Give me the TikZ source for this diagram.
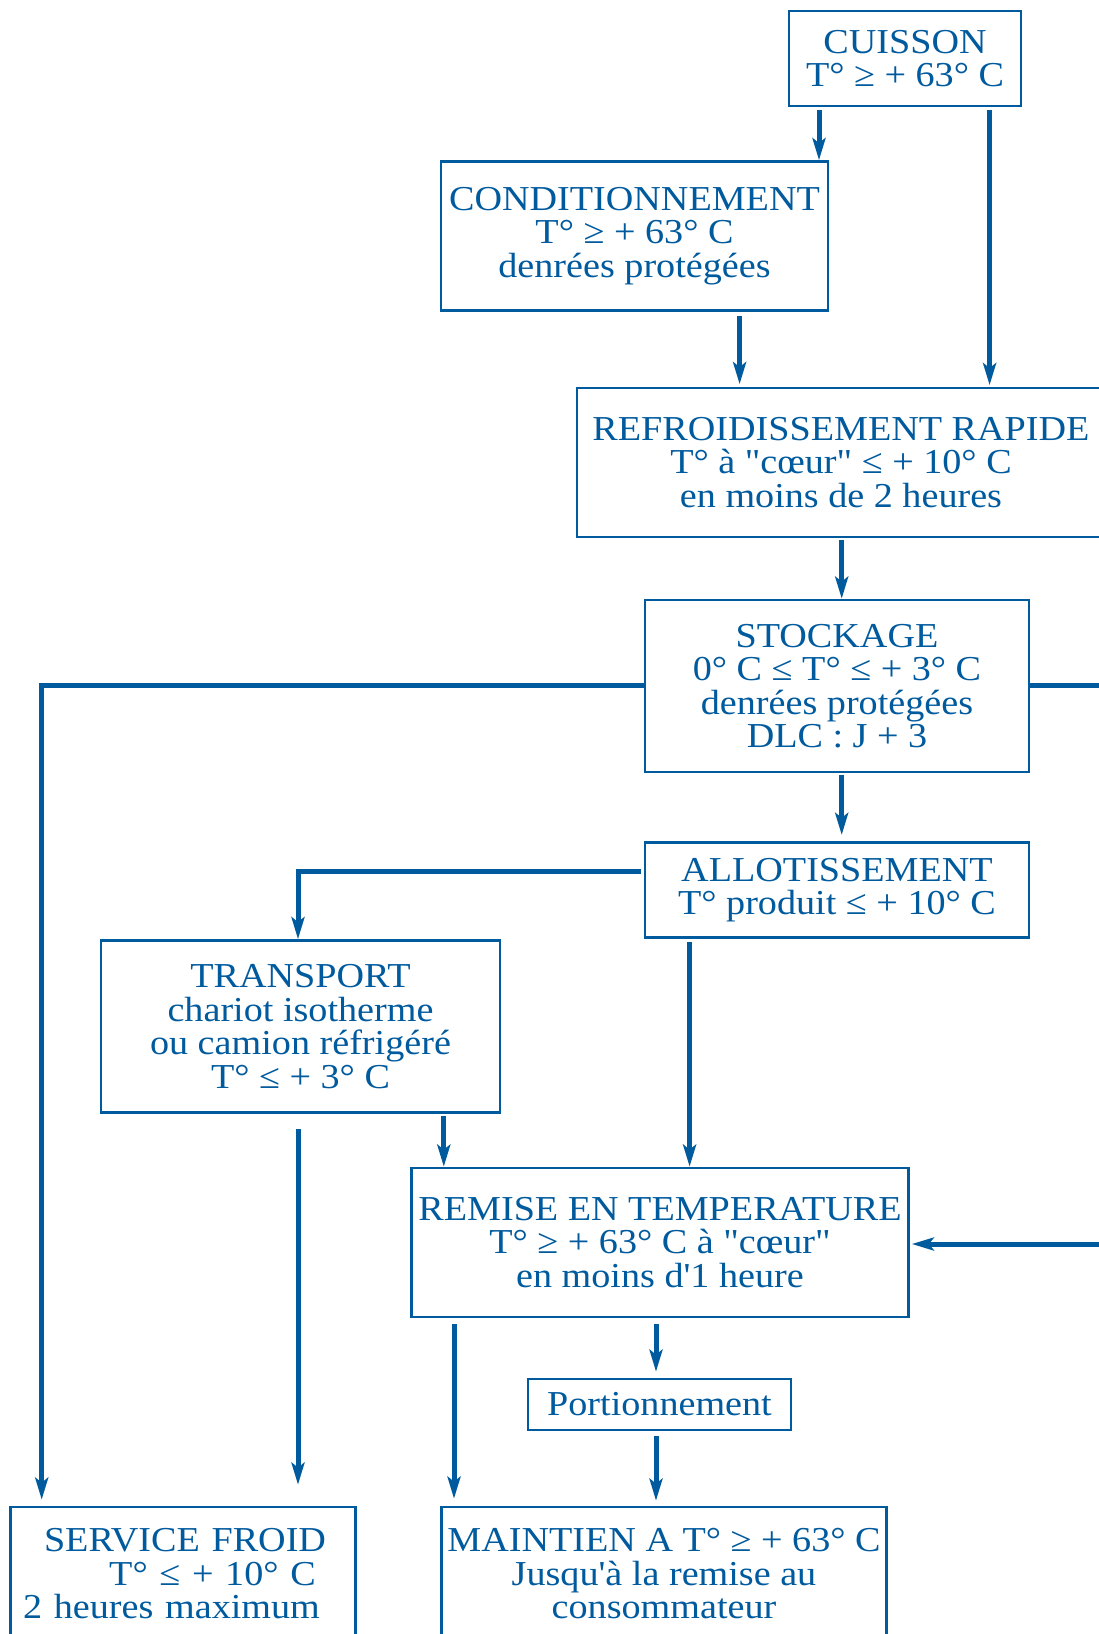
\documentclass[tikz,border=0pt]{standalone}
\usepackage{fontspec}
\setmainfont{Liberation Serif}[FakeStretch=1.09,Ligatures=TeXOff]
\usetikzlibrary{arrows.meta}
\definecolor{hblue}{RGB}{0,90,158}
\begin{document}
\begin{tikzpicture}[x=1pt,y=-1pt,
  box/.style={draw=hblue,line width=2.7pt,text=hblue,align=center,inner sep=0pt,
    font=\fontsize{35}{33.5}\selectfont},
  conn/.style={draw=hblue,line width=5pt},
  arr/.style={conn,-{Stealth[length=22pt,width=13pt,inset=5pt]}}]
\useasboundingbox (0,0) rectangle (1099,1634);
\clip (0,0) rectangle (1099,1634);
\fill[white] (0,0) rectangle (1099,1634);

\node[box,minimum width=232pt,minimum height=95pt] (cuisson) at (905,58.5) {CUISSON\\T° ≥ + 63° C};
\node[box,minimum width=387pt,minimum height=149pt] (cond) at (634.5,236) {CONDITIONNEMENT\\T° ≥ + 63° C\\denrées protégées};
\node[box,minimum width=528pt,minimum height=149pt] (refr) at (841,462.5) {REFROIDISSEMENT RAPIDE\\T° à "cœur" ≤ + 10° C\\en moins de 2 heures};
\node[box,minimum width=384pt,minimum height=172pt] (stock) at (837,686) {STOCKAGE\\0° C ≤ T° ≤ + 3° C\\denrées protégées\\DLC : J + 3};
\node[box,minimum width=384pt,minimum height=95.5pt] (allot) at (837,890) {ALLOTISSEMENT\\T° produit ≤ + 10° C};
\node[box,minimum width=399pt,minimum height=172pt] (transp) at (300.5,1026.5) {TRANSPORT\\chariot isotherme\\ou camion réfrigéré\\T° ≤ + 3° C};
\node[box,minimum width=497pt,minimum height=149pt] (remise) at (660,1242.5) {REMISE EN TEMPERATURE\\T° ≥ + 63° C à "cœur"\\en moins d'1 heure};
\node[box,minimum width=263pt,minimum height=51pt] (portion) at (659.5,1404.5) {Portionnement};
\node[box,minimum width=445pt,minimum height=134pt] (maint) at (664,1574) {MAINTIEN A T° ≥ + 63° C\\Jusqu'à la remise au\\consommateur};
\node[box,align=left,text width=320pt,inner xsep=12.6pt,minimum height=134pt] (serv) at (183.2,1574)
  {\hspace*{20.8pt}SERVICE FROID\\\hspace*{86pt}T° ≤ + 10° C\\2 heures maximum};

\coordinate (xa) at (819,0);
\coordinate (xb) at (989.6,0);
\coordinate (xc) at (739.6,0);
\coordinate (xd) at (841.7,0);
\coordinate (xl) at (41.7,0);
\coordinate (xr) at (1115,0);
\coordinate (ys) at (0,685.5);
\coordinate (ya) at (0,871);
\coordinate (xt) at (298,0);
\coordinate (xe) at (689.6,0);
\coordinate (xf) at (443.8,0);
\coordinate (xg) at (454,0);
\coordinate (xh) at (656,0);
\coordinate (yr) at (0,1244);

\draw[arr,shorten <=3pt] (cuisson.south -| xa) -- (cond.north -| xa);
\draw[arr,shorten <=3pt,shorten >=1.5pt] (cuisson.south -| xb) -- (refr.north -| xb);
\draw[arr,shorten <=4pt,shorten >=2.5pt] (cond.south -| xc) -- (refr.north -| xc);
\draw[arr,shorten <=1.5pt] (refr.south -| xd) -- (stock.north -| xd);
\draw[arr,shorten <=1.5pt,shorten >=6pt] (stock.south -| xd) -- (allot.north -| xd);
\draw[arr,shorten >=6pt] (stock.west |- ys) -- (xl |- ys) -- (serv.north -| xl);
\draw[arr,shorten >=2pt] (stock.east |- ys) -- (xr |- ys) -- (xr |- yr) -- (remise.east |- yr);
\draw[arr,shorten <=3pt] (allot.west |- ya) -- (xt |- ya) -- (transp.north -| xt);
\draw[arr,shorten <=3pt] (allot.south -| xe) -- (remise.north -| xe);
\draw[arr,shorten <=2pt] (transp.south -| xf) -- (remise.north -| xf);
\draw[arr,shorten <=15.5pt,shorten >=21pt] (transp.south -| xt) -- (serv.north -| xt);
\draw[arr,shorten <=6pt,shorten >=7pt] (remise.south -| xg) -- (maint.north -| xg);
\draw[arr,shorten <=6pt,shorten >=6pt] (remise.south -| xh) -- (portion.north -| xh);
\draw[arr,shorten <=5pt,shorten >=5pt] (portion.south -| xh) -- (maint.north -| xh);
\end{tikzpicture}
\end{document}
